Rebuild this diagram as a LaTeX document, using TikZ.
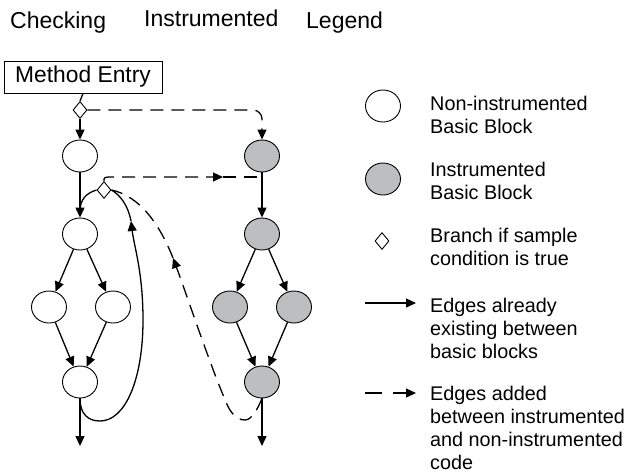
\documentclass[tikz,border=0pt]{standalone}
\usepackage{fontspec}
\setmainfont{Liberation Sans}
\usetikzlibrary{arrows.meta,shapes.geometric}
\definecolor{blockgray}{RGB}{188,190,192}
\begin{document}
\begin{tikzpicture}[x=1pt,y=-1pt,
  block/.style={ellipse,draw,line width=0.9pt,minimum width=35pt,minimum height=32pt,inner sep=0pt,fill=white},
  iblock/.style={block,fill=blockgray},
  branch/.style={diamond,draw,line width=0.9pt,fill=white,minimum width=14pt,minimum height=17pt,inner sep=0pt},
  tip/.style={-{Triangle[length=10pt,width=9pt]}},
  plain/.style={line width=1.3pt},
  edge/.style={plain,tip},
  added/.style={line width=1.3pt,dash pattern=on 13pt off 8pt},
  addededge/.style={added,tip},
  header/.style={anchor=base west,inner sep=0pt,font=\fontsize{23}{26}\selectfont},
  legtext/.style={anchor=base west,inner sep=0pt,align=left,font=\fontsize{19.8}{23}\selectfont},
]
\useasboundingbox (0,0) rectangle (631,472);

% column headings
\node[header] (hcheck) at (10,28) {Checking};
\node[header] (hinstr) at (144,26) {Instrumented};
\node[header] (hleg) at (306,28) {Legend};

% entry and branch points
\node[draw,line width=0.9pt,minimum width=158pt,minimum height=32pt,inner sep=0pt,
      font=\fontsize{22.8}{24}\selectfont] (entry) at (83,77) {Method Entry};
\node[branch] (d1) at (80,110) {};
\node[branch] (d2) at (104,190) {};

% checking code blocks
\node[block] (c1) at (80,156) {};
\node[block] (c2) at (80,234) {};
\node[block] (c3) at (49,307) {};
\node[block] (c4) at (113,307) {};
\node[block] (c5) at (80,382) {};
\coordinate (cexit) at (80,446);

% instrumented code blocks
\node[iblock] (i1) at (262,156) {};
\node[iblock] (i2) at (262,234) {};
\node[iblock] (i3) at (230,307) {};
\node[iblock] (i4) at (294,307) {};
\node[iblock] (i5) at (262,382) {};
\coordinate (iexit) at (262,446);

% existing edges, checking side
\draw[plain] (entry.south) -- (d1.north);
\draw[edge] (d1.south) -- (c1.north);
\draw[edge] (c1) -- (c2);
\draw[edge] (c2) -- (c3);
\draw[edge] (c2) -- (c4);
\draw[edge] (c3) -- (c5);
\draw[edge] (c4) -- (c5);
\draw[edge] (c5) -- (cexit);
\draw[plain] (d2.west) .. controls (86,193) and (80,200) .. (80,211);

% back edge from the last block to the branch point
\coordinate (back) at (131,221);
\draw[edge] (c5.south) .. controls (80,414) and (88,421) .. (100,421)
  .. controls (125,421) and (143,380) .. (143,320)
  .. controls (143,272) and (134,246) .. (back);
\draw[plain] (back) .. controls (128,205) and (120,195) .. (d2.east);

% existing edges, instrumented side
\draw[edge] (i1) -- (i2);
\draw[edge] (i2) -- (i3);
\draw[edge] (i2) -- (i4);
\draw[edge] (i3) -- (i5);
\draw[edge] (i4) -- (i5);
\draw[edge] (i5) -- (iexit);

% added edges
\draw[addededge,rounded corners=9pt] (d1.east) -| (i1.north);
\coordinate (jmid) at (223,177);
\coordinate (join) at (262,177);
\draw[addededge] (d2.north) .. controls (104,177) .. (114,177) -- (jmid);
\draw[added] (jmid) -- (join);
\coordinate (ret) at (173,258);
\draw[addededge] (i5.south) .. controls (258,408) and (252,420) .. (245,420)
  .. controls (236,420) and (230,412) .. (226,402)
  .. controls (210,365) and (185,290) .. (ret);
\draw[added] (ret) .. controls (160,225) and (140,196) .. (d2.east);

% legend (text nodes are placed by the baseline of their last line)
\node[block] (lnon) at (383,106) {};
\node[legtext] (tnon) at (430,133) {Non-instrumented\\Basic Block};
\node[iblock] (linst) at (383,179) {};
\node[legtext] (tinst) at (430,199) {Instrumented\\Basic Block};
\node[branch] (lbr) at (382,241) {};
\node[legtext] (tbr) at (430,265) {Branch if sample\\condition is true};
\coordinate (lea) at (365,303);
\coordinate (leb) at (416,303);
\draw[edge] (lea) -- (leb);
\node[legtext] (tedge) at (430,358) {Edges already\\existing between\\basic blocks};
\coordinate (laa) at (365,393);
\coordinate (lab) at (416,393);
\draw[line width=1.3pt,dash pattern=on 17pt off 11pt on 30pt,tip] (laa) -- (lab);
\node[legtext] (tadd) at (430,469) {Edges added\\between instrumented\\and non-instrumented\\code};
\end{tikzpicture}
\end{document}
